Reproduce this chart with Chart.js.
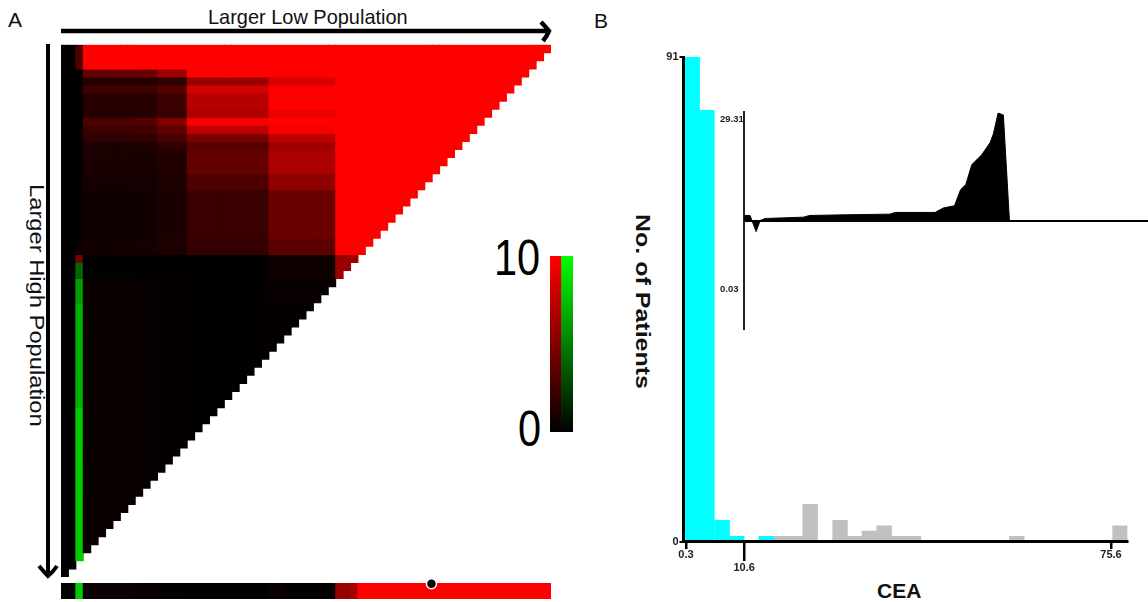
<!DOCTYPE html>
<html>
<head>
<meta charset="utf-8">
<title>X-tile plot CEA</title>
<script src="https://cdn.jsdelivr.net/npm/chart.js@4"></script>
<style>
  html, body { margin: 0; padding: 0; background: #fff; width: 1148px; height: 602px; overflow: hidden; }
  canvas { position: absolute; }
  svg { position: absolute; left: 0; top: 0; }
  .txt { position: absolute; font-family: "Liberation Sans", sans-serif; color: #111; white-space: nowrap; line-height: 1; }
  .vert { writing-mode: vertical-rl; transform-origin: top left; }
  .wide { transform-origin: top left; }
</style>
</head>
<body>
<svg width="1148" height="602">
  <path d="M61 31 H548 M541 22 Q546 27 549 31 Q547 36 543 41" fill="none" stroke="#000" stroke-width="4.5"/>
  <path d="M48 44 V574 M39 566 Q44 572 48 576 Q53 572 57 566" fill="none" stroke="#000" stroke-width="4"/>
</svg>
<div class="txt" style="left:8px;top:9px;font-size:21px">A</div>
<div class="txt" style="left:594px;top:10px;font-size:21px">B</div>
<div class="txt wide" style="left:208px;top:6px;font-size:21px;transform:scaleX(0.95)">Larger Low Population</div>
<div class="txt vert" style="left:27px;top:184px;font-size:21px;transform:scaleY(1.13)">Larger High Population</div>
<div class="txt vert" style="left:633px;top:214px;font-size:20px;font-weight:bold;transform:scaleY(1.25)">No. of Patients</div>
<div class="txt" style="left:877px;top:580px;font-size:21px;font-weight:bold">CEA</div>
<div class="txt wide" style="left:494px;top:233px;font-size:50px;color:#000;transform:scaleX(0.83)">10</div>
<div class="txt wide" style="left:518px;top:404px;font-size:50px;color:#000;transform:scaleX(0.83)">0</div>

<canvas id="heat" width="490" height="533" style="left:61px;top:44px"></canvas>
<canvas id="strip" width="490" height="27" style="left:61px;top:573px"></canvas>
<canvas id="dot" width="490" height="27" style="left:61px;top:573px"></canvas>
<canvas id="bar" width="23" height="230" style="left:550px;top:230px"></canvas>
<canvas id="hist" width="508" height="562" style="left:640px;top:40px"></canvas>
<canvas id="inset" width="428" height="240" style="left:720px;top:100px"></canvas>

<script>
// 左图 热图数据 (行带 + 列组)
const cellCount = 66;
const columnGroupStarts = [3, 10, 13, 17, 28, 37];
const rowBandEnds = [3, 4, 5, 6, 7, 8, 9, 10, 11, 12, 13, 16, 18, 24, 26, 27, 29, 32, 45, 66];
const bandValues = [
  [10, 10, 10, 10, 10, 10],
  [4, 4.2, 6.2, 10, 10, 10],
  [1.5, 1.5, 1.8, 6, 8.5, 10],
  [2.5, 2.5, 3.3, 8.3, 10, 10],
  [1.5, 1.5, 2.4, 7.2, 9.8, 10],
  [1.5, 1.5, 2.3, 7.2, 10, 10],
  [1.4, 1.4, 2.1, 6.8, 9.2, 10],
  [3, 3.2, 5, 9.7, 10, 10],
  [2.4, 2.6, 3.8, 7.5, 9.6, 10],
  [1.9, 2, 2.8, 4.8, 7.5, 10],
  [1, 1.2, 1.8, 3.5, 6.2, 10],
  [1, 0.9, 1.3, 3.9, 6.7, 10],
  [0.8, 0.8, 1.1, 3, 5.6, 10],
  [0.6, 0.7, 1, 2.2, 4.2, 10],
  [0.7, 0.8, 1.1, 2, 3.6, 10],
  [0.1, 0.1, 0.1, 0, 0.6, 6],
  [0.1, 0.1, 0.1, 0, 0.6, 6],
  [0.4, 0.3, 0.2, 0.1, 0.3, 6],
  [0.4, 0.3, 0.2, 0.1, 0.2, 6],
  [0.4, 0.3, 0.2, 0.1, 0.2, 6]
];
// 第3列单独读取, 负值画绿色
const thirdColumnBands = [3, 0.2, 0.2, 0.2, 0.2, 0.2, 0.2, 0.2, 0.2, 0.2, 0.2, 0.2, 0.2, 0.2, 0.4, 4.5, -4, -6.2, -7, -8];

// 底部条
const stripValues = [
  0, 0, -8, 0.5, 0.5, 0.5, 0.5, 0.5, 0.5, 0.5, 0.4, 0.3, 0.3, 0.2, 0.2, 0.2, 0.1,
  0, 0, 0, 0, 0, 0, 0, 0, 0, 0, 0, 0.4, 0.4, 0.2, 0.1, 0.1, 0.1, 0.1, 0.1, 0.1,
  6, 6, 6.5, 10, 10, 10, 10, 10, 10, 10, 10, 10, 10, 10, 10, 10, 10, 10, 10, 10,
  10, 10, 10, 10, 10, 10, 10, 10, 10
];
const cutPoint = 49.9;

// 色标
const colorbarRange = [0, 10];
const colorbarValues = [10, -10];

// 右图 直方图
const binCenters = [1.4, 4.0, 6.7, 9.3, 11.9, 14.5, 17.1, 19.7, 22.3, 25.0, 27.6, 30.2, 32.8, 35.4, 38.0,
  40.6, 43.2, 45.9, 48.5, 51.1, 53.7, 56.3, 58.9, 61.5, 64.2, 66.8, 69.4, 72.0, 74.6, 77.2];
const lowCounts = [91, 81, 4, 1, 0, 1];
const highCounts = [0, 0, 0, 0, 0, 0, 1, 1, 7, 0, 4, 1, 2, 3, 1, 1, 0, 0, 0, 0, 0, 0, 1, 0, 0, 0, 0, 0, 0, 3];
const countTicks = [0, 91];
const ceaTicks = [0.3, 75.6];
const ceaCutTicks = [10.6];

// 内嵌图
const insetX = [0, 1.5, 1.9, 3.0, 4.0, 5.2, 14.7, 16.3, 25.4, 36.1, 37.4, 47.3, 49.3, 52.1, 53.6, 54.9, 56.4, 58.8, 60.9, 61.7, 62.9, 64.2, 65.7, 100];
const insetY = [1.36, 1.36, 0.18, -3.0, 0, 0.54, 0.9, 1.36, 1.54, 1.72, 2.18, 2.18, 3.36, 3.99, 8.3, 9.7, 15.1, 17.7, 21.0, 23.3, 29.0, 28.5, 0, 0];
const insetTickValues = [27.3, -18.5];
const insetTickLabels = ['29.31', '0.03'];

const fontName = '"Liberation Sans", sans-serif';

// 数值转颜色: 正值红 负值绿
function heatColor(v) {
  const level = Math.round(Math.min(Math.abs(v), 10) * 25.5);
  return v < 0 ? `rgb(0,${level},0)` : `rgb(${level},0,0)`;
}

function cellValue(bandIndex, col) {
  if (col < 2) return 0;
  if (col === 2) return thirdColumnBands[bandIndex];
  let group = 0;
  columnGroupStarts.forEach((start, i) => { if (col >= start) group = i; });
  return bandValues[bandIndex][group];
}

const columnLabels = [];
for (let c = 0; c < cellCount; c++) columnLabels.push(String(c));

// 每行一个数据集, 浮动条
const heatDatasets = [];
let band = 0;
for (let r = 0; r < cellCount; r++) {
  if (r >= rowBandEnds[band]) band++;
  const data = [];
  const colors = [];
  for (let c = 0; c < cellCount; c++) {
    data.push(c <= cellCount - 1 - r ? [r, r + 1] : null);
    colors.push(heatColor(cellValue(band, c)));
  }
  heatDatasets.push({ data: data, backgroundColor: colors, borderWidth: 0, inflateAmount: 0.5, barPercentage: 1, categoryPercentage: 1, grouped: false });
}

const baseOptions = {
  responsive: false,
  animation: false,
  devicePixelRatio: 1,
  events: [],
  plugins: { legend: { display: false }, tooltip: { enabled: false } }
};

new Chart(document.getElementById('heat'), {
  type: 'bar',
  data: { labels: columnLabels, datasets: heatDatasets },
  options: {
    ...baseOptions,
    layout: { padding: { top: 0.7 } },
    scales: {
      x: { display: false },
      y: { display: false, reverse: true, min: 0, max: cellCount }
    }
  }
});

new Chart(document.getElementById('strip'), {
  type: 'bar',
  data: {
    labels: columnLabels,
    datasets: [{
      data: stripValues.map(() => [0, 1]),
      backgroundColor: stripValues.map(heatColor),
      borderWidth: 0,
      inflateAmount: 0.5,
      barPercentage: 1,
      categoryPercentage: 1,
      grouped: false
    }]
  },
  options: {
    ...baseOptions,
    layout: { padding: { top: 10, bottom: 1 } },
    scales: {
      x: { display: false },
      y: { display: false, min: 0, max: 1 }
    }
  }
});

// 最佳切点的圆点
new Chart(document.getElementById('dot'), {
  type: 'scatter',
  data: {
    datasets: [{
      data: [{ x: cutPoint, y: 0.95 }],
      pointRadius: 5,
      pointBorderWidth: 1.5,
      pointBackgroundColor: '#000',
      pointBorderColor: '#fff',
      clip: false
    }]
  },
  options: {
    ...baseOptions,
    layout: { autoPadding: false, padding: { top: 10, bottom: 1 } },
    scales: {
      x: { type: 'linear', display: false, min: 0, max: cellCount },
      y: { display: false, min: 0, max: 1 }
    }
  }
});

new Chart(document.getElementById('bar'), {
  type: 'bar',
  data: {
    labels: ['red', 'green'],
    datasets: [{
      data: colorbarValues.map(() => colorbarRange),
      borderWidth: 0,
      barPercentage: 1,
      categoryPercentage: 1,
      backgroundColor: (ctx) => {
        const area = ctx.chart.chartArea;
        if (!area) return '#000';
        const g = ctx.chart.ctx.createLinearGradient(0, area.bottom, 0, area.top);
        g.addColorStop(0, '#000');
        g.addColorStop(1, heatColor(colorbarValues[ctx.dataIndex]));
        return g;
      }
    }]
  },
  options: {
    ...baseOptions,
    layout: { padding: { top: 26, bottom: 28 } },
    scales: {
      x: { display: false },
      y: { display: false, min: 0, max: 10 }
    }
  }
});

// 直方图: 两条 x 轴, 10.6 的刻度更长
const smallBold = { family: fontName, size: 11, weight: 'bold' };
new Chart(document.getElementById('hist'), {
  type: 'bar',
  data: {
    datasets: [
      { data: binCenters.slice(0, lowCounts.length).map((x, i) => ({ x: x, y: lowCounts[i] })), backgroundColor: '#00ffff', barThickness: 14.75, grouped: false },
      { data: binCenters.map((x, i) => ({ x: x, y: highCounts[i] })), backgroundColor: '#c0c0c0', barThickness: 14.75, grouped: false }
    ]
  },
  options: {
    ...baseOptions,
    layout: { padding: { top: 17, right: 20.5, bottom: 60.3 } },
    scales: {
      x: {
        type: 'linear', offset: false, min: -0.14, max: 78.52, position: { y: 0 },
        afterBuildTicks: (s) => { s.ticks = ceaTicks.map((v) => ({ value: v })); },
        border: { color: '#000', width: 3, z: 2 },
        grid: { drawOnChartArea: false, offset: false, color: '#000', lineWidth: 2.5, tickLength: 6 },
        ticks: { color: '#222', padding: 1, maxRotation: 0, font: smallBold, callback: (v) => String(v) }
      },
      xCut: {
        type: 'linear', offset: false, min: -0.14, max: 78.52, position: { y: 0 },
        afterBuildTicks: (s) => { s.ticks = ceaCutTicks.map((v) => ({ value: v })); },
        border: { display: false },
        grid: { drawOnChartArea: false, offset: false, color: '#000', lineWidth: 2.5, tickLength: 19 },
        ticks: { color: '#222', padding: 1, maxRotation: 0, font: smallBold, callback: (v) => String(v) }
      },
      y: {
        min: 0, max: 91,
        afterFit: (s) => { s.width = 43.5; },
        afterBuildTicks: (s) => { s.ticks = countTicks.map((v) => ({ value: v })); },
        border: { color: '#000', width: 3, z: 2 },
        grid: { drawOnChartArea: false, color: '#000', lineWidth: 2, tickLength: 4 },
        ticks: { color: '#222', padding: 1, font: smallBold }
      }
    }
  }
});

new Chart(document.getElementById('inset'), {
  type: 'line',
  data: {
    datasets: [{
      data: insetX.map((x, i) => ({ x: x, y: insetY[i] })),
      borderColor: '#000',
      borderWidth: 1,
      backgroundColor: '#000',
      fill: 'origin',
      pointRadius: 0,
      tension: 0
    }]
  },
  options: {
    ...baseOptions,
    layout: { padding: { top: 12, bottom: 11 } },
    scales: {
      x: {
        type: 'linear', min: 0, max: 100, position: { y: 0 },
        border: { color: '#000', width: 2 },
        grid: { display: false },
        ticks: { display: false }
      },
      y: {
        min: -29.3, max: 29.3,
        afterFit: (s) => { s.width = 24; },
        afterBuildTicks: (s) => { s.ticks = insetTickValues.map((v) => ({ value: v })); },
        border: { color: '#222', width: 2 },
        grid: { display: false },
        ticks: {
          color: '#222',
          crossAlign: 'far',
          padding: 1,
          font: { family: fontName, size: 9.5, weight: 'bold' },
          callback: (v, i) => insetTickLabels[i]
        }
      }
    }
  }
});
</script>
</body>
</html>
